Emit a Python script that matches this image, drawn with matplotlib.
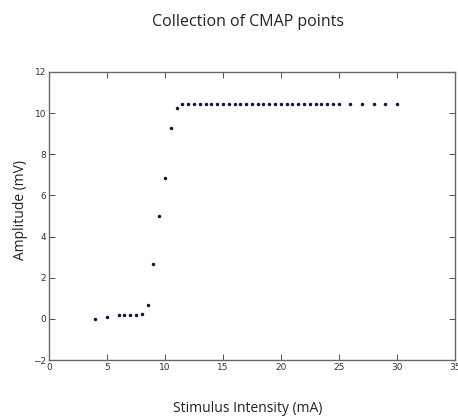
import matplotlib
matplotlib.use("Agg")
import matplotlib.pyplot as plt

# stimulus intensity (mA) and CMAP amplitude (mV)
intensity = [4, 5, 6, 6.5, 7, 7.5, 8, 8.5, 9, 9.5, 10, 10.5, 11,
             11.5, 12, 12.5, 13, 13.5, 14, 14.5, 15, 15.5, 16, 16.5, 17,
             17.5, 18, 18.5, 19, 19.5, 20, 20.5, 21, 21.5, 22, 22.5, 23,
             23.5, 24, 24.5, 25, 26, 27, 28, 29, 30]
amplitude = [0.0, 0.08, 0.19, 0.19, 0.18, 0.18, 0.24, 0.66, 2.68, 5.02, 6.83,
             9.27, 10.24,
             10.44, 10.44, 10.44, 10.44, 10.44, 10.45, 10.44, 10.45, 10.45,
             10.46, 10.45, 10.45, 10.45, 10.45, 10.45, 10.45, 10.45, 10.45,
             10.45, 10.45, 10.45, 10.45, 10.45, 10.45, 10.45, 10.45, 10.45,
             10.44, 10.45, 10.44, 10.44, 10.44, 10.44]

fig = plt.figure(figsize=(4.58, 4.16), dpi=100)
ax = fig.add_axes([0.107, 0.1346, 0.886, 0.6924])

ax.plot(intensity, amplitude, '.', color='#121245', markersize=3)
ax.set_xlim(0, 35)
ax.set_ylim(-2, 12)
ax.set_xticks(range(0, 36, 5))
ax.set_yticks(range(-2, 13, 2))
ax.set_yticklabels(['\u22122', '0', '2', '4', '6', '8', '10', '12'])
ax.tick_params(direction='in', top=True, right=True, labelsize=6.5,
               length=4, width=0.6, colors='#333333', pad=2)
for s in ax.spines.values():
    s.set_color('#666666')
    s.set_linewidth(1.0)

lab_font = dict(family=['Open Sans', 'DejaVu Sans'], color='#222222')
fig.text(0.541, 0.947, 'Collection of CMAP points', ha='center', va='center',
         fontsize=11.5, **lab_font)
fig.text(0.541, 0.019, 'Stimulus Intensity (mA)', ha='center', va='center',
         fontsize=10, **lab_font)
fig.text(0.044, 0.495, 'Amplitude (mV)', ha='center', va='center',
         rotation=90, fontsize=10, **lab_font)

fig.savefig('out.png', dpi=100)
